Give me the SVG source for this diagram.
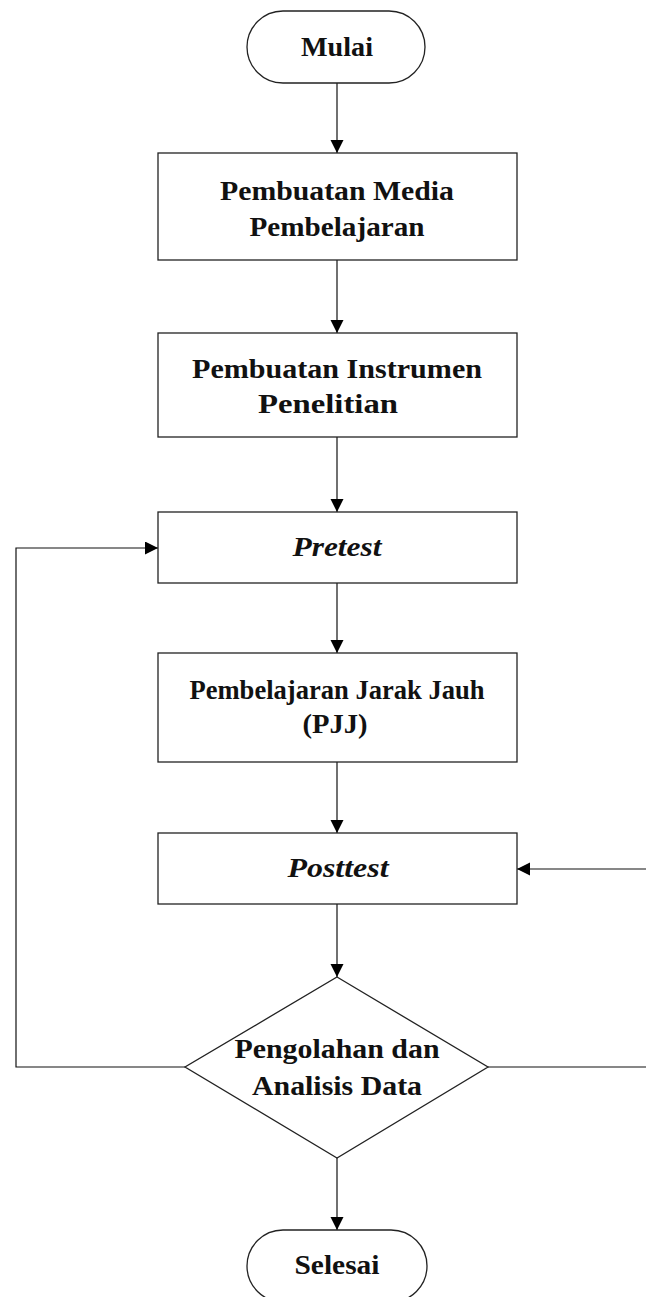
<svg xmlns="http://www.w3.org/2000/svg" width="646" height="1297" viewBox="0 0 646 1297">
<style>
.shape{fill:#fff;stroke:#222;stroke-width:1.3}
.lbl{font-family:"Liberation Serif","Times New Roman",serif;font-weight:bold;font-size:27px;fill:#111;text-anchor:middle}
.it{font-style:italic}
.conn{fill:none;stroke:#111;stroke-width:1.2;marker-end:url(#arr)}
</style>
<defs>
<marker id="arr" markerUnits="userSpaceOnUse" markerWidth="14" markerHeight="14" refX="13" refY="6.5" orient="auto">
<path d="M0,0 L13,6.5 L0,13 Z" fill="#000"/>
</marker>
</defs>
<rect width="646" height="1297" fill="#fff"/>
<g id="connectors">
<line class="conn" x1="337" y1="83" x2="337" y2="153"/>
<line class="conn" x1="337" y1="260" x2="337" y2="333"/>
<line class="conn" x1="337" y1="437" x2="337" y2="512"/>
<line class="conn" x1="337" y1="583" x2="337" y2="653"/>
<line class="conn" x1="337" y1="762" x2="337" y2="833"/>
<line class="conn" x1="337" y1="904" x2="337" y2="977"/>
<line class="conn" x1="337" y1="1158" x2="337" y2="1230"/>
<polyline class="conn" points="185,1067 16,1067 16,548 158,548"/>
<polyline class="conn" points="488,1067 648,1067 648,869 517,869"/>
</g>
<g id="mulai">
<rect class="shape" x="247" y="11" width="178" height="72" rx="36" ry="36"/>
<text class="lbl" x="337" y="56" textLength="72" lengthAdjust="spacingAndGlyphs">Mulai</text>
</g>
<g id="media">
<rect class="shape" x="158" y="153" width="359" height="107"/>
<text class="lbl" x="337" y="200" textLength="234" lengthAdjust="spacingAndGlyphs">Pembuatan Media</text>
<text class="lbl" x="337" y="236" textLength="175" lengthAdjust="spacingAndGlyphs">Pembelajaran</text>
</g>
<g id="instrumen">
<rect class="shape" x="158" y="333" width="359" height="104"/>
<text class="lbl" x="337" y="378" textLength="290" lengthAdjust="spacingAndGlyphs">Pembuatan Instrumen</text>
<text class="lbl" x="328" y="413" textLength="140" lengthAdjust="spacingAndGlyphs">Penelitian</text>
</g>
<g id="pretest">
<rect class="shape" x="158" y="512" width="359" height="71"/>
<text class="lbl it" x="337" y="556" textLength="89" lengthAdjust="spacingAndGlyphs">Pretest</text>
</g>
<g id="pjj">
<rect class="shape" x="158" y="653" width="359" height="109"/>
<text class="lbl" x="337" y="699" textLength="295" lengthAdjust="spacingAndGlyphs">Pembelajaran Jarak Jauh</text>
<text class="lbl" x="335" y="733" textLength="65" lengthAdjust="spacingAndGlyphs">(PJJ)</text>
</g>
<g id="posttest">
<rect class="shape" x="158" y="833" width="359" height="71"/>
<text class="lbl it" x="338" y="877" textLength="101" lengthAdjust="spacingAndGlyphs">Posttest</text>
</g>
<g id="analisis">
<polygon class="shape" points="337,977 488,1067 337,1158 185,1067"/>
<text class="lbl" x="337" y="1058" textLength="205" lengthAdjust="spacingAndGlyphs">Pengolahan dan</text>
<text class="lbl" x="337" y="1095" textLength="170" lengthAdjust="spacingAndGlyphs">Analisis Data</text>
</g>
<g id="selesai">
<rect class="shape" x="247" y="1230" width="180" height="72" rx="36" ry="36"/>
<text class="lbl" x="337" y="1274" textLength="85" lengthAdjust="spacingAndGlyphs">Selesai</text>
</g>
</svg>
